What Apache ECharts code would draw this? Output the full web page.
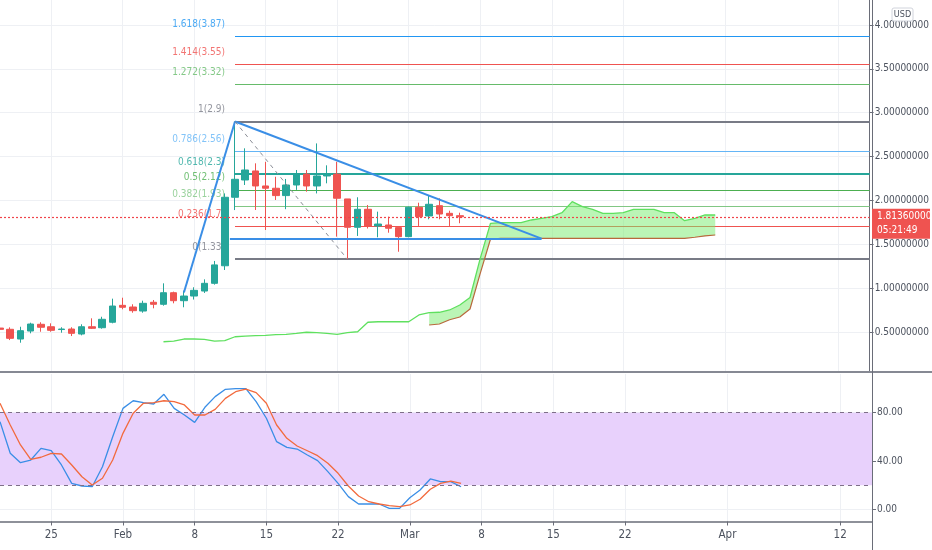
<!DOCTYPE html>
<html><head><meta charset="utf-8">
<script src="https://cdn.jsdelivr.net/npm/echarts@6/dist/echarts.min.js"></script>
<style>html,body{margin:0;padding:0;background:#fff}#c{width:932px;height:550px}</style>
</head><body><div id="c"></div>
<script>
// ---------- data ----------
const startDate = '2021-01-20';
const dates = ['2021-01-20','2021-01-21','2021-01-22','2021-01-23','2021-01-24','2021-01-25','2021-01-26','2021-01-27','2021-01-28','2021-01-29','2021-01-30','2021-01-31',
 '2021-02-01','2021-02-02','2021-02-03','2021-02-04','2021-02-05','2021-02-06','2021-02-07','2021-02-08','2021-02-09','2021-02-10','2021-02-11','2021-02-12','2021-02-13','2021-02-14',
 '2021-02-15','2021-02-16','2021-02-17','2021-02-18','2021-02-19','2021-02-20','2021-02-21','2021-02-22','2021-02-23','2021-02-24','2021-02-25','2021-02-26','2021-02-27','2021-02-28',
 '2021-03-01','2021-03-02','2021-03-03','2021-03-04','2021-03-05','2021-03-06'];
const opens  = [0.545,0.531,0.420,0.511,0.588,0.560,0.528,0.534,0.477,0.560,0.549,0.611,0.804,0.785,0.739,0.839,0.816,0.948,0.857,0.910,0.967,1.055,1.255,2.036,2.233,2.336,2.165,2.139,2.055,2.176,2.300,2.165,2.279,2.300,2.017,1.694,1.899,1.709,1.720,1.690,1.587,1.922,1.823,1.940,1.853,1.826];
const closes = [0.530,0.428,0.515,0.591,0.554,0.519,0.534,0.485,0.560,0.542,0.645,0.796,0.782,0.743,0.827,0.816,0.948,0.857,0.910,0.975,1.055,1.265,2.036,2.241,2.347,2.165,2.139,2.055,2.176,2.300,2.165,2.279,2.300,2.025,1.694,1.899,1.709,1.731,1.683,1.587,1.922,1.815,1.956,1.845,1.826,1.8136];
const lows   = [0.515,0.408,0.378,0.485,0.503,0.503,0.492,0.454,0.462,0.534,0.538,0.599,0.759,0.720,0.720,0.770,0.800,0.827,0.782,0.870,0.945,1.040,1.207,1.890,2.176,1.891,1.663,2.005,1.900,2.120,2.100,2.080,2.195,1.587,1.330,1.595,1.680,1.580,1.632,1.415,1.580,1.709,1.785,1.785,1.709,1.740];
const highs  = [0.560,0.553,0.560,0.606,0.611,0.599,0.554,0.554,0.588,0.656,0.674,0.880,0.891,0.816,0.857,0.865,1.055,0.960,0.971,1.010,1.100,1.310,2.080,2.900,2.594,2.423,2.440,2.270,2.245,2.347,2.347,2.650,2.400,2.440,2.017,2.036,1.948,1.872,1.815,1.690,1.930,1.974,2.060,2.024,1.883,1.860];

const stochK = [72.5,46.4,38.6,40.8,50.5,48.5,36.7,21.5,19.3,18.7,35.3,60.1,83.6,89.9,88.3,87.2,95.2,83.6,78.1,72.0,84.5,93.3,99.4,100,100,89.1,75.4,56.0,51.3,49.9,45.0,40.3,31.2,21.5,10.5,4.4,4.4,4.4,0.8,0.8,9.6,16.0,25.1,22.9,22.9,18.7];
const stochD = [87.8,69.8,53.3,41.4,43.1,46.4,45.8,36.7,27.0,20.1,25.7,40.8,62.9,79.5,87.8,88.3,89.9,89.1,86.4,78.1,78.1,82.8,91.9,97.4,99.6,96.6,87.8,69.8,58.8,52.4,48.5,44.4,38.1,29.8,19.3,11.0,6.3,4.4,3.0,2.2,3.6,8.3,16.6,21.5,23.4,21.5];

const spanAStart = '2021-02-05';
const spanA = [0.389,0.397,0.420,0.420,0.417,0.397,0.401,0.446,0.454,0.458,0.462,0.469,0.474,0.485,0.497,0.492,0.485,0.474,0.492,0.503,
 0.611,0.617,0.617,0.617,0.617,0.694,0.720,0.725,0.751,0.808,0.893,1.340,1.739,1.746,1.746,1.746,1.777,1.796,1.815,1.860,
 1.986,1.929,1.899,1.853,1.853,1.860,1.899,1.899,1.899,1.860,1.860,1.769,1.796,1.834,1.834];
const spanBStart = '2021-03-03';
const spanB = [0.580,0.591,0.640,0.671,0.762,1.169,1.557,1.568,1.568,1.568,1.568,1.568,1.568,1.568,1.568,1.568,1.568,1.568,1.568,1.568,
 1.568,1.568,1.568,1.568,1.568,1.568,1.580,1.595,1.606];

const fibLevels = [0, 0.236, 0.382, 0.5, 0.618, 0.786, 1, 1.272, 1.414, 1.618];
const fibPrices = [1.33, 1.7, 1.93, 2.12, 2.3, 2.56, 2.9, 3.32, 3.55, 3.87];
const fibColors = ['#787b86','#ef5350','#81c784','#4caf50','#26a69a','#64b5f6','#787b86','#66bb6a','#ef5350','#2196f3'];
const fibWidths = [2,1,1,1,2,1,2,1,1,1];
const fibStartDate = '2021-02-12';

// drawings: [date, price] pairs
const riseLine   = [['2021-02-07', 0.95], ['2021-02-12', 2.9]];
const upperTrend = [['2021-02-12', 2.9], ['2021-03-14', 1.565]];
const lowerTrend = [['2021-02-11T12:00', 1.565], ['2021-03-14', 1.565]];
const fibDiag    = [['2021-02-12', 2.9], ['2021-02-23', 1.33]];

const tickDates  = ['2021-01-25','2021-02-01','2021-02-08','2021-02-15','2021-02-22','2021-03-01','2021-03-08','2021-03-15','2021-03-22','2021-04-01','2021-04-12'];
const tickLabels = ['25','Feb','8','15','22','Mar','8','15','22','Apr','12'];
const priceTicks = [0.5,1,1.5,2,2.5,3,3.5,4];
const oscTicks = [0,40,80];
const oscBand = [20, 80];
const lastTime = '05:21:49';

// ---------- helpers ----------
const t0 = Date.parse(startDate + 'T00:00:00Z');
function day(s){ return (Date.parse((s.length===10? s+'T00:00:00': s+':00') + 'Z') - t0) / 864e5; }
const X_MIN = 0, X_MAX = 85.11;
const labelMap = {}; tickDates.forEach((d,i)=>{ labelMap[day(d)] = tickLabels[i]; });
const tickDays = tickDates.map(day);

const FONT = "'DejaVu Sans Condensed','Liberation Sans Narrow','Liberation Sans',sans-serif";
const GRIDC = '#eef0f4';
const TEXTC = '#4c525e';

const candleData = dates.map((d,i)=>[day(d), opens[i], closes[i], lows[i], highs[i]]);
const kData = dates.map((d,i)=>[day(d), stochK[i]]);
const dData = dates.map((d,i)=>[day(d), stochD[i]]);
const a0 = day(spanAStart), b0 = day(spanBStart);
const spanAData = spanA.map((v,i)=>[a0+i, v]);
const spanBData = spanB.map((v,i)=>[b0+i, v]);

const fs = day(fibStartDate);
const fibLines = fibPrices.map((p,i)=>[
  {coord:[fs, p], lineStyle:{color:fibColors[i], width:fibWidths[i], type:'solid'}},
  {coord:[X_MAX, p]}
]);
const fibLabelPts = fibPrices.map((p,i)=>({
  value:[fs, p],
  label:{color:fibColors[i], formatter: fibLevels[i] + '(' + p + ')'}
}));
function seg(pts, style){ return [{coord:[day(pts[0][0]), pts[0][1]], lineStyle:style},{coord:[day(pts[1][0]), pts[1][1]]}]; }
const blue = {color:'#3a8ee6', width:2, type:'solid'};
const lastClose = closes[closes.length-1];
const drawLines = [
  seg(riseLine, blue), seg(upperTrend, blue), seg(lowerTrend, blue),
  seg(fibDiag, {color:'#8a8d96', width:1, type:[4,4]}),
  [{coord:[X_MIN, lastClose], lineStyle:{color:'#f0444a', width:1.2, type:[2,2]}}, {coord:[X_MAX, lastClose]}]
];

const chart = echarts.init(document.getElementById('c'), null, {renderer:'canvas'});
const option = {
  animation:false,
  backgroundColor:'#ffffff',
  textStyle:{fontFamily:FONT},
  grid:[
    {left:0, top:0, width:872, height:372},
    {left:0, top:374, width:872, height:147.5}
  ],
  xAxis:[
    {type:'value', gridIndex:0, min:X_MIN, max:X_MAX,
     axisLine:{show:false}, axisLabel:{show:false, customValues:tickDays}, axisTick:{show:false, customValues:tickDays},
     splitLine:{show:true, lineStyle:{color:GRIDC, width:1}}},
    {type:'value', gridIndex:1, min:X_MIN, max:X_MAX,
     axisLine:{show:true, onZero:false, lineStyle:{color:'#6a6d78', width:1.5}},
     axisTick:{show:true, length:4, customValues:tickDays, lineStyle:{color:'#6a6d78'}},
     axisLabel:{show:true, customValues:tickDays, color:TEXTC, fontSize:11.5, fontFamily:FONT, margin:8,
       formatter:(v)=>labelMap[Math.round(v)] || ''},
     splitLine:{show:true, lineStyle:{color:GRIDC, width:1}}}
  ],
  yAxis:[
    {type:'value', gridIndex:0, position:'right', min:0.044, max:4.285,
     axisLine:{show:true, onZero:false, lineStyle:{color:'#6a6d78'}},
     axisTick:{show:true, inside:false, length:4, customValues:priceTicks, lineStyle:{color:'#6a6d78'}},
     axisLabel:{customValues:priceTicks, color:TEXTC, fontSize:10, fontFamily:FONT, margin:5,
       formatter:(v)=>v.toFixed(8)},
     splitLine:{show:true, lineStyle:{color:GRIDC}}},
    {type:'value', gridIndex:1, position:'right', min:-10.1, max:112.05,
     axisLine:{show:true, onZero:false, lineStyle:{color:'#6a6d78'}},
     axisTick:{show:true, inside:false, length:4, customValues:oscTicks, lineStyle:{color:'#6a6d78'}},
     axisLabel:{customValues:oscTicks, color:TEXTC, fontSize:10, fontFamily:FONT, margin:5,
       formatter:(v)=>v.toFixed(2)},
     splitLine:{show:true, lineStyle:{color:GRIDC}}}
  ],
  series:[
    {name:'cloud', type:'custom', xAxisIndex:0, yAxisIndex:0, data:[spanBData[0]], z:1, silent:true, clip:true,
     renderItem:(params, api)=>{
       const top = spanAData.filter(p=>p[0]>=b0).map(p=>api.coord(p));
       const bot = spanBData.slice().reverse().map(p=>api.coord(p));
       return {type:'polygon', shape:{points:top.concat(bot)}, style:{fill:'rgba(120,235,110,0.5)'}};
     }},
    {name:'spanA', type:'line', xAxisIndex:0, yAxisIndex:0, data:spanAData, symbol:'none',
     lineStyle:{color:'#5fe05f', width:1.3}, z:2, silent:true},
    {name:'spanB', type:'line', xAxisIndex:0, yAxisIndex:0, data:spanBData, symbol:'none',
     lineStyle:{color:'#b8683c', width:1.2}, z:2, silent:true},
    {name:'fib', type:'scatter', xAxisIndex:0, yAxisIndex:0, data:fibLabelPts, symbolSize:0, z:1, silent:true,
     label:{show:true, position:'left', distance:10, offset:[0,-12], fontSize:10, fontFamily:FONT},
     markLine:{silent:true, symbol:['none','none'], label:{show:false}, data:fibLines, z:1}},
    {name:'drawings', type:'line', xAxisIndex:0, yAxisIndex:0, data:[], z:4, silent:true,
     markLine:{silent:true, symbol:['none','none'], label:{show:false}, data:drawLines, z:4}},
    {name:'price', type:'candlestick', xAxisIndex:0, yAxisIndex:0, barWidth:7, z:3,
     data:candleData,
     encode:{x:0, y:[1,2,3,4]},
     itemStyle:{color:'#26a69a', color0:'#ef5350', borderColor:'#26a69a', borderColor0:'#ef5350', borderWidth:1}},
    {name:'K', type:'line', xAxisIndex:1, yAxisIndex:1, data:kData, symbol:'none',
     lineStyle:{color:'#3a8ee6', width:1.3}, z:3,
     markArea:{silent:true, itemStyle:{color:'#e8d1fc'}, data:[[{yAxis:oscBand[0]},{yAxis:oscBand[1]}]]},
     markLine:{silent:true, symbol:['none','none'], label:{show:false},
       lineStyle:{color:'#7e6f88', type:[4,4], width:1}, data:[{yAxis:oscBand[0]},{yAxis:oscBand[1]}]}},
    {name:'D', type:'line', xAxisIndex:1, yAxisIndex:1, data:dData, symbol:'none',
     lineStyle:{color:'#f26a3d', width:1.3}, z:3}
  ]
};
chart.setOption(option);

const py = chart.convertToPixel({gridIndex:0}, [0, lastClose])[1];
chart.setOption({graphic:[
  {type:'rect', shape:{x:0, y:371, width:932, height:2}, style:{fill:'#868993'}, z:100, silent:true},
  {type:'line', shape:{x1:872.5, y1:0, x2:872.5, y2:550}, style:{stroke:'#6a6d78', lineWidth:1}, z:100, silent:true},
  {type:'rect', shape:{x:872, y:py-8, width:58, height:30}, style:{fill:'#ef5350'}, z:101, silent:true},
  {type:'text', x:877, y:py, style:{text:lastClose.toFixed(8), fill:'#ffffff', font:'10px '+FONT, verticalAlign:'middle'}, z:102, silent:true},
  {type:'text', x:877, y:py+14, style:{text:lastTime, fill:'#ffffff', font:'10px '+FONT, verticalAlign:'middle'}, z:102, silent:true},
  {type:'rect', shape:{x:892, y:8, width:21, height:13, r:2}, style:{fill:'#ffffff', stroke:'#d1d4dc', lineWidth:1}, z:101, silent:true},
  {type:'text', x:902.5, y:14.5, style:{text:'USD', fill:'#4c525e', font:'9px '+FONT, align:'center', verticalAlign:'middle'}, z:102, silent:true}
]});
</script></body></html>
